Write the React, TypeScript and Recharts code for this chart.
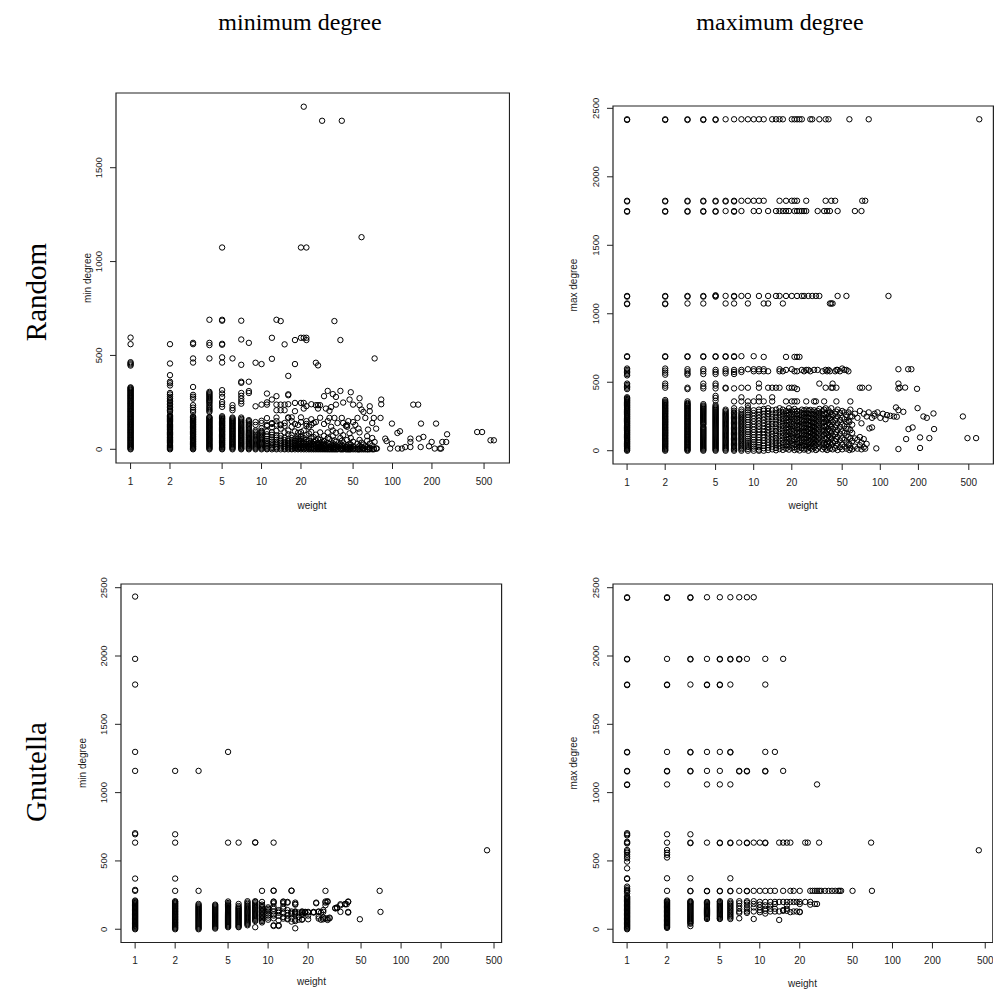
import React from 'react';
import { ScatterChart, Scatter, XAxis, YAxis, ReferenceArea } from 'recharts';

type Col = [number, number[]];

const xTicks = [1, 2, 5, 10, 20, 50, 100, 200, 500];
const yTicksRandMin = [0, 500, 1000, 1500];
const yTicksFull = [0, 500, 1000, 1500, 2000, 2500];
const colTitles = ['minimum degree', 'maximum degree'];
const rowTitles = ['Random', 'Gnutella'];
const xLabel = 'weight';
const yLabels = ['min degree', 'max degree'];

// Random graph – min degree: [weight, degree values]
const randMinCols: Col[] = [
  [1, [0,4,9,13,18,22,27,32,36,41,46,50,55,60,64,69,74,78,83,88,92,97,102,106,111,116,120,125,130,134,139,144,148,153,158,162,167,172,176,181,186,190,195,200,204,209,214,218,223,228,232,237,242,246,251,256,260,265,270,274,279,284,288,293,298,302,307,312,316,321,326,330,446,452,458,464,560,595]],
  [2, [0,5,9,14,19,23,28,33,37,42,47,51,56,61,65,70,75,79,84,89,93,98,103,107,112,117,121,126,131,135,140,145,149,154,159,163,168,173,177,181,199,206,214,222,230,238,246,254,262,270,280,292,300,340,352,360,395,457,560]],
  [3, [0,4,8,13,17,22,26,31,35,40,44,49,53,58,62,67,71,76,80,85,89,94,98,103,107,112,116,121,125,130,134,139,143,148,152,157,161,166,170,176,199,210,222,235,270,280,290,332,462,484,560,567]],
  [4, [0,5,9,14,18,23,27,32,37,41,46,50,55,59,64,69,73,78,82,87,91,96,101,105,110,114,119,123,128,133,137,142,146,151,155,160,165,169,172,199,206,213,220,228,236,245,252,258,264,270,276,282,288,294,300,306,484,555,567,690]],
  [5, [0,4,9,13,18,23,27,32,36,41,46,50,55,59,64,69,73,78,82,87,92,96,101,105,110,115,119,124,128,133,138,142,147,151,156,161,165,170,176,226,240,252,279,297,315,462,490,557,562,685,690,1075]],
  [6, [0,5,10,14,19,24,28,33,38,42,47,52,56,61,66,70,75,80,84,89,94,98,103,108,112,117,122,126,131,136,140,145,150,154,159,164,169,208,220,235,484]],
  [7, [0,4,8,13,17,22,26,31,35,40,44,49,53,58,62,67,71,76,80,85,89,94,98,103,108,113,118,124,130,136,142,148,155,162,169,243,256,270,285,300,354,360,450,585,685]],
  [8, [0,5,9,14,18,23,28,32,37,41,46,51,55,60,64,69,74,78,83,88,94,100,107,114,121,128,135,143,150,155,300,310,360,567]],
  [9, [0,5,10,15,20,25,31,37,43,49,55,62,69,76,84,92,100,130,145,229,461]],
  [10, [0,5,10,16,22,28,34,40,47,54,61,68,76,84,92,98,112,140,152,238,454]],
  [11, [0,4,10,17,25,34,44,55,68,80,95,124,130,166,238,250,297]],
  [12, [0,7,14,22,31,41,52,64,77,90,118,135,140,265,482,594]],
  [13, [0,5,12,20,29,39,50,62,75,98,132,150,169,208,238,283,690]],
  [14, [0,8,16,25,35,46,58,72,110,128,132,208,238,683]],
  [15, [0,4,11,19,28,38,49,61,90,125,140,208,238,559]],
  [16, [0,6,14,23,33,44,56,80,100,167,170,240,288,293,391]],
  [17, [0,3,10,18,27,37,48,60,75,120,150,170]],
  [18, [0,7,15,24,34,45,57,95,135,203,247,454,582]],
  [19, [0,4,12,21,31,42,54,68,88,130]],
  [20, [0,6,13,22,32,43,55,70,92,145,170,247,594,1075]],
  [21, [0,5,12,20,30,41,60,100,217,247,594,1825]],
  [22, [0,8,17,27,38,52,75,125,135,150,230,582,594,1075]],
  [23, [0,4,11,20,30,45,84,120]],
  [24, [0,6,14,24,36,58,92,130,160,240]],
  [25, [0,3,10,19,29,42,65,140]],
  [26, [0,7,16,26,48,78,145,235,461]],
  [27, [0,5,12,22,35,56,217,235,447]],
  [28, [0,8,18,30,50,90,168,235]],
  [29, [0,4,12,24,40,1750]],
  [30, [0,6,15,27,44,72,135,283]],
  [31, [0,10,22,217]],
  [32, [0,9,20,35,60,90,150,311]],
  [33, [0,4,14,28,55,167,205]],
  [34, [0,12,120,225]],
  [35, [0,7,18,32,70,100,294]],
  [36, [0,3,12,25,48,167,683]],
  [37, [0,8,20,40,88,238,279]],
  [38, [0,14,140]],
  [40, [0,5,15,30,60,95,311,582]],
  [41, [0,10,22,45,167,1750]],
  [42, [0,4,16,35,75,140,249]],
  [44, [0,12,125]],
  [45, [0,8,20,50,120,130]],
  [46, [0,150]],
  [47, [0,3,12,30,85,265]],
  [48, [0,9,25,60,304]],
  [50, [0,5,15,40,100,145,238]],
  [52, [0,130]],
  [54, [0,10,30,167]],
  [55, [0,110]],
  [56, [0,4,18,50,90,235,272]],
  [58, [0,12,35,212,1130]],
  [60, [0,6,25,199]],
  [62, [0,15,167]],
  [64, [0,12,45,70]],
  [65, [0,105]],
  [67, [0,8,30,203,229]],
  [70, [0,20,60,140]],
  [72, [0,4,167]],
  [73, [39,484]],
  [75, [4,110]],
  [76, [4]],
  [81, [167]],
  [82, [240,265]],
  [88, [57]],
  [90, [44]],
  [96, [4]],
  [99, [30,137]],
  [109, [87]],
  [110, [4]],
  [114, [96]],
  [118, [4]],
  [125, [12]],
  [137, [12,39,57]],
  [144, [238]],
  [157, [238]],
  [159, [57]],
  [164, [12]],
  [165, [137]],
  [172, [66]],
  [190, [16]],
  [199, [39]],
  [210, [4]],
  [215, [137]],
  [230, [4]],
  [235, [4]],
  [240, [39]],
  [257, [39]],
  [261, [80]],
  [443, [92]],
  [483, [92]],
  [560, [48]],
  [594, [48]],
];

// Random graph – max degree
const randMaxCols: Col[] = [
  [1, [0,6,13,19,26,32,39,45,52,58,65,71,78,84,91,97,104,110,117,123,130,136,143,149,156,162,169,175,182,188,195,201,208,214,221,227,234,240,247,253,260,266,273,279,286,292,299,305,312,318,325,331,338,344,351,357,364,370,377,383,390,450,460,470,480,490,550,560,570,580,590,600,685,690,1070,1075,1125,1130,1745,1750,1820,1825,2415,2420]],
  [2, [0,7,13,20,27,33,40,47,53,60,67,73,80,87,93,100,107,113,120,127,133,140,147,153,160,167,173,180,187,193,200,207,213,220,227,233,240,247,253,260,267,273,280,287,293,300,307,313,320,327,333,340,347,353,360,370,460,475,490,555,570,585,600,685,690,1070,1075,1125,1130,1745,1750,1820,1825,2415,2420]],
  [3, [0,6,12,19,25,31,38,44,50,57,63,69,76,82,88,95,101,107,114,120,126,133,139,145,152,158,164,171,177,183,190,196,202,209,215,221,228,234,240,247,253,259,266,272,278,285,291,297,304,310,316,323,329,335,342,348,360,450,460,555,565,580,595,685,690,1075,1125,1130,1745,1750,1820,1825,2415,2420]],
  [4, [0,7,14,21,28,35,42,49,56,63,70,77,84,91,98,105,112,119,126,133,140,147,154,161,168,175,190,197,204,211,218,225,232,239,246,253,260,267,274,281,288,295,302,309,316,323,330,340,455,470,490,560,580,595,685,690,1075,1125,1130,1745,1750,1820,1825,2415,2420]],
  [5, [0,7,14,21,28,35,42,49,56,63,70,77,84,91,98,105,112,119,126,133,140,147,154,161,168,175,182,189,196,203,210,217,224,231,238,245,252,259,266,273,280,287,294,301,308,315,322,333,365,385,400,455,475,490,560,575,590,685,690,1125,1130,1135,1745,1750,1820,1825,2415,2420]],
  [6, [0,8,16,23,31,39,47,55,63,71,79,87,95,103,111,119,127,135,143,151,159,167,175,183,191,199,207,215,223,231,239,247,255,263,271,280,290,300,455,460,565,580,595,685,690,1075,1130,1750,1820,1825,2420]],
  [7, [0,9,18,27,36,45,54,63,72,81,90,99,108,117,126,135,144,153,162,171,180,189,198,207,216,225,234,243,252,261,270,280,292,310,360,455,560,575,590,685,690,1075,1125,1130,1745,1750,1820,1825,2420]],
  [8, [0,10,20,30,40,50,60,70,80,90,100,110,120,130,140,150,160,170,180,190,200,210,220,230,240,250,260,270,285,300,360,390,460,575,590,690,1130,1750,1825,2420]],
  [9, [0,13,27,41,56,71,87,103,120,137,154,172,190,208,226,244,262,280,295,310,330,360,460,595,1075,1130,1825,2420]],
  [10, [0,15,30,46,62,80,98,116,135,154,174,194,214,234,254,275,295,360,580,595,690,1750,1825,2420]],
  [11, [0,8,25,42,60,78,97,116,136,156,177,198,219,240,262,284,300,360,390,460,490,580,595,1130,1750,1825,2420]],
  [12, [0,18,36,55,75,95,115,136,158,180,202,225,248,270,292,305,360,580,595,685,1075,1825,2420]],
  [13, [5,22,40,60,82,104,127,150,173,196,220,244,268,290,310,460,580,1075,1130,1750]],
  [14, [10,30,52,75,98,122,146,170,195,220,245,270,295,360,390,460,2420]],
  [15, [3,20,45,68,92,118,144,170,196,222,248,274,300,460,1130,1750,2420]],
  [16, [12,35,58,82,108,134,160,186,212,238,262,285,310,460,580,595,1130,1750,1825,2420]],
  [17, [6,28,55,80,105,130,155,180,205,230,255,280,300,580,1075,1750,2420]],
  [18, [15,40,65,90,115,140,165,190,215,240,265,290,360,590,685,1130,1750,1825]],
  [19, [8,30,60,85,110,135,160,185,210,235,260,285,310,460,1750]],
  [20, [20,45,70,95,120,145,170,195,220,245,270,295,360,460,595,1130,1825,2420]],
  [21, [5,25,50,78,102,128,154,180,206,232,258,284,305,360,460,580,685,1750,1825,2420]],
  [22, [12,38,62,88,112,138,164,190,216,242,268,290,360,450,580,685,1130,1750,1825,2420]],
  [23, [2,28,55,80,105,130,156,182,208,234,260,286,685,1750,2420]],
  [24, [18,42,68,94,120,146,172,198,224,250,276,300,590,1130,1750,2420]],
  [25, [8,35,60,86,112,138,164,190,216,242,268,294,580,1130,1750]],
  [26, [14,40,66,92,118,144,170,196,222,248,274,300,360,590,1750,1825]],
  [27, [0,28,55,80,108,135,160,188,214,240,266,292,590,1130]],
  [28, [20,48,75,102,130,158,186,214,242,270,298,580,2420]],
  [29, [10,36,62,90,118,146,174,202,230,258,286,1130,2420]],
  [30, [25,55,85,115,145,175,205,235,265,295,360,590]],
  [31, [5,40,70,100,130,160,190,220,250,280,360,1130]],
  [32, [15,50,80,110,140,170,200,230,260,290,590,1750]],
  [33, [30,60,95,125,155,185,215,245,275,305,490,1130,2420]],
  [35, [10,45,75,105,140,170,200,230,260,290,580]],
  [36, [25,55,90,120,150,180,210,240,270,300,360,1750]],
  [37, [15,40,85,130,175,220,265,310,460,590,1825,2420]],
  [38, [5,50,95,140,185,230,275,580,1750]],
  [39, [30,70,115,160,205,250,295,590,2420]],
  [40, [15,55,100,145,190,235,280,580,1075,1750]],
  [41, [40,85,130,175,220,265,310,460,1075,1825]],
  [42, [10,60,110,160,210,260,460,490,1075]],
  [44, [20,70,120,170,220,270,580,1825]],
  [45, [35,85,135,185,235,285,360,460,590]],
  [46, [5,50,100,150,200,250,300,590,1130,1750]],
  [48, [25,75,125,175,225,275,580]],
  [50, [10,45,90,140,190,240,290,600]],
  [52, [30,80,130,180,230,280,590]],
  [54, [15,60,110,160,210,260,590,1130]],
  [56, [40,100,160,220,280,580]],
  [57, [5,50,210,2420]],
  [58, [20,90,150,250,300,360]],
  [60, [10,70,130,190,250]],
  [63, [30,90,270,1750]],
  [66, [15,80,240]],
  [69, [40,100,290,460]],
  [71, [10,60,200,1750]],
  [72, [460,1825]],
  [74, [25,85,270]],
  [76, [15,1825]],
  [78, [50,250]],
  [81, [280,460,2420]],
  [82, [163]],
  [86, [170,240]],
  [90, [255,270]],
  [93, [17]],
  [95, [280]],
  [100, [240]],
  [105, [270]],
  [110, [230]],
  [113, [260]],
  [116, [1130]],
  [120, [255]],
  [128, [250]],
  [133, [316]],
  [135, [248]],
  [139, [12,296,454,490,595]],
  [143, [461]],
  [152, [284]],
  [157, [461]],
  [160, [85]],
  [166, [595]],
  [167, [158]],
  [176, [595]],
  [180, [170]],
  [195, [452]],
  [197, [311]],
  [206, [20,97]],
  [219, [250]],
  [233, [240]],
  [244, [92]],
  [263, [272]],
  [266, [158]],
  [449, [250]],
  [488, [92]],
  [571, [92]],
  [605, [2420]],
];

// Gnutella – min degree
const gnuMinCols: Col[] = [
  [1, [0,6,12,18,24,30,36,42,48,54,60,66,72,78,84,90,96,102,108,114,120,126,132,138,144,150,156,162,168,174,180,186,192,198,204,210,281,288,371,634,695,703,1159,1298,1791,1979,2435]],
  [2, [0,7,13,20,27,33,40,47,53,60,67,73,80,87,93,100,107,113,120,127,133,140,147,153,160,167,173,180,187,193,200,205,281,371,634,695,1159]],
  [3, [0,7,14,21,28,35,42,49,56,63,70,77,84,91,98,105,112,119,126,133,140,147,154,161,168,176,185,281,1159]],
  [4, [5,12,19,26,33,40,47,54,61,68,75,82,89,96,103,110,117,124,131,138,145,152,159,166,173,180]],
  [5, [15,22,29,36,43,50,57,64,71,78,85,92,99,106,113,120,127,134,141,148,155,162,169,176,183,192,203,634,1298]],
  [6, [15,20,27,34,41,48,55,62,69,76,83,90,97,104,111,118,125,132,139,146,153,160,170,185,634]],
  [7, [29,38,46,54,62,70,78,86,94,102,110,118,126,134,142,150,158,166,175,185,195,205]],
  [8, [15,60,68,76,84,92,100,108,116,124,132,140,148,156,164,172,180,190,200,205,634,636]],
  [9, [50,60,70,80,90,100,110,120,130,140,150,160,170,180,200,281]],
  [10, [70,85,100,115,130,140,150,160]],
  [11, [24,29,80,100,110,130,150,166,190,200,203,281,283,634]],
  [12, [24,29,65,98,120,130,140]],
  [13, [78,90,120,150,166,190,200,203]],
  [14, [73,78,100,120,140,195,200]],
  [15, [56,78,110,120,130,281,283]],
  [16, [7,60,70,110,120,127,130,180,185,195]],
  [17, [70,90,122]],
  [18, [70,73,105,117,127,130]],
  [19, [120,125,127]],
  [20, [73,100,122,127]],
  [22, [122,125,127]],
  [23, [190,195]],
  [24, [78,93,127,130]],
  [25, [70,122]],
  [26, [73,85,127,140]],
  [27, [80,176,195,203,281]],
  [28, [68,78,200,205]],
  [29, [80,85]],
  [32, [153,154]],
  [33, [154,160]],
  [35, [127,175,183]],
  [38, [183,185]],
  [39, [183]],
  [40, [122,127,200,203]],
  [49, [73]],
  [69, [281]],
  [70, [127]],
  [443, [578]],
];

// Gnutella – max degree
const gnuMaxCols: Col[] = [
  [1, [0,6,12,18,24,30,36,42,48,54,60,66,72,78,84,90,96,102,108,114,120,126,132,138,144,150,156,162,168,174,180,186,192,198,204,210,216,222,228,234,240,263,276,281,288,300,312,368,373,446,495,519,530,545,560,570,580,628,634,640,687,695,703,1056,1060,1155,1159,1294,1298,1787,1791,1975,1979,2425,2430]],
  [2, [10,16,22,28,34,40,46,52,58,64,70,76,82,88,94,100,106,112,118,124,130,136,142,148,154,160,166,172,178,184,190,196,202,210,281,373,525,545,560,580,634,695,1060,1155,1159,1298,1787,1791,1979,2425,2430]],
  [3, [23,40,47,54,61,68,75,82,89,96,103,110,117,124,131,138,145,152,159,166,173,180,187,194,200,205,278,281,373,630,634,695,1155,1159,1294,1298,1791,1975,1979,2425,2430]],
  [4, [75,82,90,98,106,114,122,130,138,146,154,162,170,178,186,194,200,278,281,634,1060,1159,1298,1787,1791,1979,2430]],
  [5, [75,80,88,96,104,112,120,128,136,144,152,160,168,176,184,192,200,205,278,281,630,634,1060,1159,1298,1787,1791,1975,1979,2430]],
  [6, [75,85,95,105,115,125,135,145,155,165,175,185,195,205,278,281,373,630,634,1060,1294,1298,1791,1975,1979,2430]],
  [7, [80,120,130,150,170,190,205,281,634,1155,1159,1975,1979,2430]],
  [8, [120,130,145,160,180,195,205,278,281,630,634,1155,1159,1979,2430]],
  [9, [75,130,160,185,205,281,634,2430]],
  [10, [125,140,160,180,200,281,634]],
  [11, [115,135,150,175,200,281,630,634,1155,1159,1298,1791,1979]],
  [12, [130,150,175,200,281]],
  [13, [130,150,185,200,281,1298]],
  [14, [68,130,200,634]],
  [15, [135,140,200,281,634,1159,1979]],
  [16, [135,150,175,200,634]],
  [17, [125,200,281,634]],
  [18, [130,200,281]],
  [19, [130,200]],
  [20, [125,128,185,200,281]],
  [22, [200,634]],
  [23, [634]],
  [24, [180,200,281]],
  [25, [281]],
  [26, [185,281]],
  [27, [185,281,1060]],
  [28, [281,634]],
  [29, [281]],
  [31, [281]],
  [33, [281]],
  [35, [281]],
  [37, [281]],
  [39, [281]],
  [40, [281]],
  [41, [281]],
  [50, [281]],
  [69, [634]],
  [70, [281]],
  [447, [578]],
];

const toPoints = (cols: Col[]) =>
  cols.flatMap(([w, vs]) => vs.map((v) => ({ x: w, y: v })));

const SANS = '"Liberation Sans", Arial, Helvetica, sans-serif';
const SERIF = '"Liberation Serif", "Times New Roman", Times, serif';

const Circle = (props: any) =>
  props.cx == null ? null : (
    <circle cx={props.cx} cy={props.cy} r={2.7} fill="none" stroke="#000" strokeWidth={1} />
  );

const XTick = (props: any) => (
  <text x={props.x} y={props.y} dy={14} textAnchor="middle" fontFamily={SANS} fontSize={10} fill="#222">
    {props.payload.value}
  </text>
);

const YTick = (props: any) => {
  const bx = props.x - 6;
  return (
    <text x={bx} y={props.y} textAnchor="middle" fontFamily={SANS} fontSize={9.5} fill="#222"
      transform={`rotate(-90 ${bx} ${props.y})`}>
      {props.payload.value}
    </text>
  );
};

type PanelProps = {
  left: number; top: number; right: number; bottom: number;
  xDomain: [number, number]; yDomain: [number, number]; yTicks: number[]; data: { x: number; y: number }[];
};

function Panel({ left, top, right, bottom, xDomain, yDomain, yTicks, data }: PanelProps) {
  const YW = 50, XH = 55, MT = 20, MR = 1;
  const w = right - left, h = bottom - top;
  return (
    <div style={{ position: 'absolute', left: left - YW, top: top - MT }}>
      <ScatterChart width={w + YW + MR} height={h + MT + XH} margin={{ top: MT, right: MR, bottom: 0, left: 0 }}>
        <XAxis type="number" dataKey="x" scale="log" domain={xDomain} ticks={xTicks} allowDataOverflow
          axisLine={false} tickLine={{ stroke: '#222' }} tickSize={6} height={XH} tick={<XTick />} interval={0} />
        <YAxis type="number" dataKey="y" domain={yDomain} ticks={yTicks} allowDataOverflow
          axisLine={false} tickLine={{ stroke: '#222' }} tickSize={6} width={YW} tick={<YTick />} interval={0} />
        <ReferenceArea x1={xDomain[0]} x2={xDomain[1]} y1={yDomain[0]} y2={yDomain[1]}
          fill="none" fillOpacity={0} stroke="#222" strokeWidth={1.2} ifOverflow="visible" />
        <Scatter data={data} shape={<Circle />} isAnimationActive={false} />
      </ScatterChart>
    </div>
  );
}

export default function App() {
  const topX: [number, number] = [0.774, 782];
  const botX: [number, number] = [0.783, 570];
  const axisText = { fontFamily: SANS, fontSize: 10, fill: '#222' } as const;
  return (
    <div style={{ position: 'absolute', left: 0, top: 0, width: 995, height: 994, overflow: 'hidden', background: '#fff' }}>
      <Panel left={115.5} top={93} right={509} bottom={463} xDomain={topX} yDomain={[-73, 1898]}
        yTicks={yTicksRandMin} data={toPoints(randMinCols)} />
      <Panel left={612.6} top={106} right={993} bottom={464} xDomain={topX} yDomain={[-97, 2517]}
        yTicks={yTicksFull} data={toPoints(randMaxCols)} />
      <Panel left={121.2} top={584} right={501.8} bottom={942.5} xDomain={botX} yDomain={[-97, 2527]}
        yTicks={yTicksFull} data={toPoints(gnuMinCols)} />
      <Panel left={612.6} top={584} right={992.4} bottom={942.5} xDomain={botX} yDomain={[-97, 2527]}
        yTicks={yTicksFull} data={toPoints(gnuMaxCols)} />
      <svg width={995} height={994} style={{ position: 'absolute', left: 0, top: 0, pointerEvents: 'none' }}>
        <text x={300} y={30} textAnchor="middle" fontFamily={SERIF} fontSize={24} fill="#000">{colTitles[0]}</text>
        <text x={780} y={30} textAnchor="middle" fontFamily={SERIF} fontSize={24} fill="#000">{colTitles[1]}</text>
        <text x={46} y={292} textAnchor="middle" fontFamily={SERIF} fontSize={29} fill="#000"
          transform="rotate(-90 46 292)">{rowTitles[0]}</text>
        <text x={46} y={772} textAnchor="middle" fontFamily={SERIF} fontSize={29} fill="#000"
          transform="rotate(-90 46 772)">{rowTitles[1]}</text>
        <text x={312} y={509} textAnchor="middle" {...axisText}>{xLabel}</text>
        <text x={803} y={509} textAnchor="middle" {...axisText}>{xLabel}</text>
        <text x={311.5} y={985} textAnchor="middle" {...axisText}>{xLabel}</text>
        <text x={802.5} y={987} textAnchor="middle" {...axisText}>{xLabel}</text>
        <text x={91} y={278} textAnchor="middle" {...axisText} transform="rotate(-90 91 278)">{yLabels[0]}</text>
        <text x={577} y={285} textAnchor="middle" {...axisText} transform="rotate(-90 577 285)">{yLabels[1]}</text>
        <text x={86} y={763} textAnchor="middle" {...axisText} transform="rotate(-90 86 763)">{yLabels[0]}</text>
        <text x={577} y={763} textAnchor="middle" {...axisText} transform="rotate(-90 577 763)">{yLabels[1]}</text>
      </svg>
    </div>
  );
}
